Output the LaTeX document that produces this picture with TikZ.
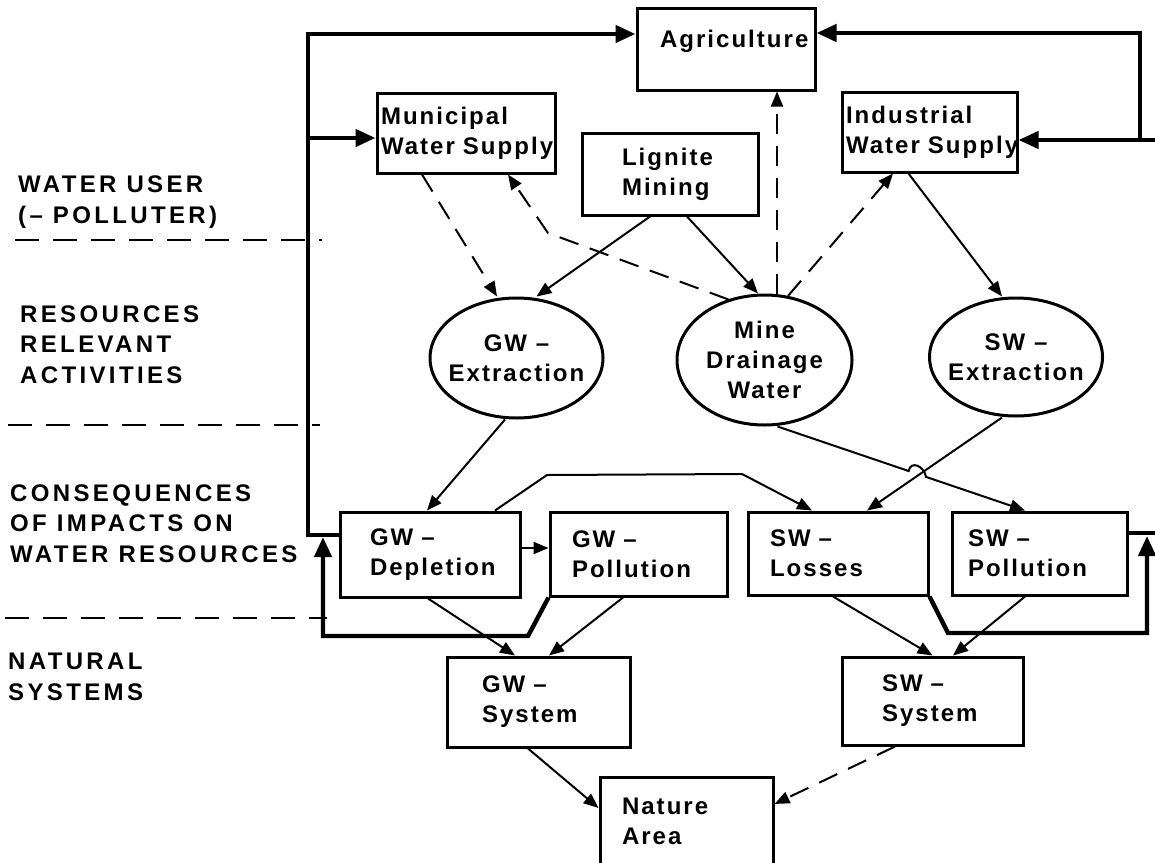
\documentclass[tikz,border=0pt]{standalone}
\usepackage{fontspec}
\newfontfamily\boxfont[LetterSpace=8.5]{Liberation Sans}
\newfontfamily\sidefont[LetterSpace=14]{Liberation Sans}
\usetikzlibrary{arrows.meta,shapes.geometric,calc}
\newcommand{\mkctr}[1]{\makebox[110pt]{#1}}
\begin{document}
\begin{tikzpicture}[x=1pt,y=-1pt,
  box/.style={draw, rectangle, line width=3pt, align=left, inner ysep=0pt,
    font=\boxfont\bfseries\fontsize{24}{30}\selectfont},
  oval/.style={draw, ellipse, line width=3pt, align=center, inner sep=0pt,
    font=\boxfont\bfseries\fontsize{24}{30}\selectfont},
  side/.style={anchor=base west, align=left, inner sep=0pt,
    font=\sidefont\bfseries\fontsize{24}{30.5}\selectfont},
  conn/.style={line width=2pt, -{Triangle[length=15pt,width=12pt]}},
  dconn/.style={conn, dash pattern=on 20pt off 12pt},
  fb/.style={line width=4.4pt, -{Triangle[length=20pt,width=17pt]}},
  divider/.style={line width=2.2pt, dash pattern=on 24pt off 14pt}
]
\path[use as bounding box, fill=white] (0,0) rectangle (1155,862);

% side labels (anchored at the baseline of their last line) and dividers
\node[side] (lab1) at (18,223) {WATER USER\\(– POLLUTER)};
\node[side] (lab2) at (20,383) {RESOURCES\\RELEVANT\\ACTIVITIES};
\node[side] (lab3) at (10,562) {CONSEQUENCES\\OF IMPACTS ON\\WATER RESOURCES};
\node[side] (lab4) at (8,700) {NATURAL\\SYSTEMS};
\draw[divider] (15,240) -- (322,240);
\draw[divider] (8,425) -- (320,425);
\draw[divider] (5,618) -- (327,618);

% nodes
\node[box, text width=132pt, inner xsep=23pt, minimum height=82pt] (agri) at (726,49) {Agriculture\\[-10pt]\mbox{}};
\node[box, text width=170pt, inner xsep=4pt, minimum height=80pt] (muni) at (466,133) {Municipal\\\mbox{Water Supply}};
\node[box, text width=96pt, inner xsep=40pt, minimum height=82pt] (lign) at (670,174) {Lignite\\Mining};
\node[box, text width=167pt, inner xsep=4pt, minimum height=80pt] (indu) at (929.5,132) {Industrial\\\mbox{Water Supply}};
\node[oval, minimum width=173pt, minimum height=120pt] (gwe) at (516.5,358) {\mkctr{GW –}\\\mkctr{Extraction}};
\node[oval, minimum width=175pt, minimum height=130pt] (mdw) at (764.5,360) {\mkctr{Mine}\\\mkctr{Drainage}\\\mkctr{Water}};
\node[oval, minimum width=173pt, minimum height=118pt] (swe) at (1016,357) {\mkctr{SW –}\\\mkctr{Extraction}};
\node[box, text width=120pt, inner xsep=30pt, minimum height=85pt] (gwd) at (430,554.5) {GW –\\Depletion};
\node[box, text width=133pt, inner xsep=22pt, minimum height=84pt] (gwp) at (638.5,554) {GW –\\Pollution};
\node[box, text width=136pt, inner xsep=22pt, minimum height=83pt] (swl) at (838,553.5) {SW –\\Losses};
\node[box, text width=143pt, inner xsep=16pt, minimum height=83pt] (swp) at (1039.5,553.5) {SW –\\Pollution};
\node[box, text width=113pt, inner xsep=35pt, minimum height=90pt] (gws) at (538.5,702) {GW –\\System};
\node[box, text width=101pt, inner xsep=40pt, minimum height=88pt] (sws) at (932.5,701) {SW –\\System};
\node[box, text width=129pt, inner xsep=22pt, minimum height=88pt] (nat) at (686.5,821) {Nature\\Area};

% connectors
\draw[dconn] ([xshift=-44pt]muni.south) -- ([xshift=-19.5pt]gwe.north);
\draw[conn] ([xshift=-20pt]lign.south) -- ([xshift=20pt]gwe.north);
\draw[conn] ([xshift=17pt]lign.south) -- ([xshift=-6.5pt]mdw.north);
\draw[dconn] ([xshift=-36pt,yshift=-6pt]mdw.north) -- (548,233) -- ([xshift=42pt]muni.south);
\draw[dconn] ([xshift=12.5pt]mdw.north) -- ([xshift=51pt]agri.south);
\draw[dconn] ([xshift=23.5pt,yshift=-2.4pt]mdw.north) -- ([xshift=-36.5pt]indu.south);
\draw[conn] ([xshift=-21pt]indu.south) -- ([xshift=-14pt]swe.north);
\draw[conn] ([xshift=-11.5pt]gwe.south) -- ([xshift=-3pt]gwd.north);
\draw[conn] ([xshift=65pt]gwd.north) -- (547,475) -- (742,474) -- ([xshift=-26pt]swl.north);
\draw[conn] ([xshift=-14pt]swe.south) -- ([xshift=29pt]swl.north);
\coordinate (m1) at ([xshift=13pt]mdw.south);
\coordinate (m2) at ([xshift=-14.5pt]swp.north);
\draw[conn] (m1) -- ($(m1)!0.53!(m2)$) .. controls +(2,-11) and +(-2,-11) .. ($(m1)!0.60!(m2)$) -- (m2);
\draw[conn] ([yshift=6.5pt]gwd.east) -- ([yshift=6pt]gwp.west);
\draw[conn] ([xshift=-2pt]gwd.south) -- ([xshift=-23.5pt]gws.north);
\draw[conn] ([xshift=-15.5pt]gwp.south) -- ([xshift=10.5pt]gws.north);
\draw[conn] ([xshift=-5pt]swl.south) -- (sws.north);
\draw[conn] ([xshift=-14.5pt]swp.south) -- ([xshift=20.5pt]sws.north);
\draw[conn] ([xshift=-10.5pt]gws.south) -- ([yshift=13pt]nat.west);
\draw[dconn] ([xshift=-37.5pt]sws.south) -- ([yshift=17pt]nat.east);

% feedback loops
\coordinate (jl) at (308,138);
\draw[fb] ([yshift=19.5pt]gwd.west) -| (jl) -- ([yshift=-5pt]muni.west);
\draw[fb] (jl) |- ([yshift=15pt]agri.west);
\draw[fb] (gwp.south west) -- (528,636) -| (323,537);
\coordinate (jr) at (1140,140);
\draw[fb] ([yshift=20.5pt]swp.east) -- (1157,533) |- ([yshift=-8pt]indu.east);
\draw[fb] (jr) |- ([yshift=16pt]agri.east);
\draw[fb] (swl.south east) -- (948,633) -| (1147,536);
\end{tikzpicture}
\end{document}
